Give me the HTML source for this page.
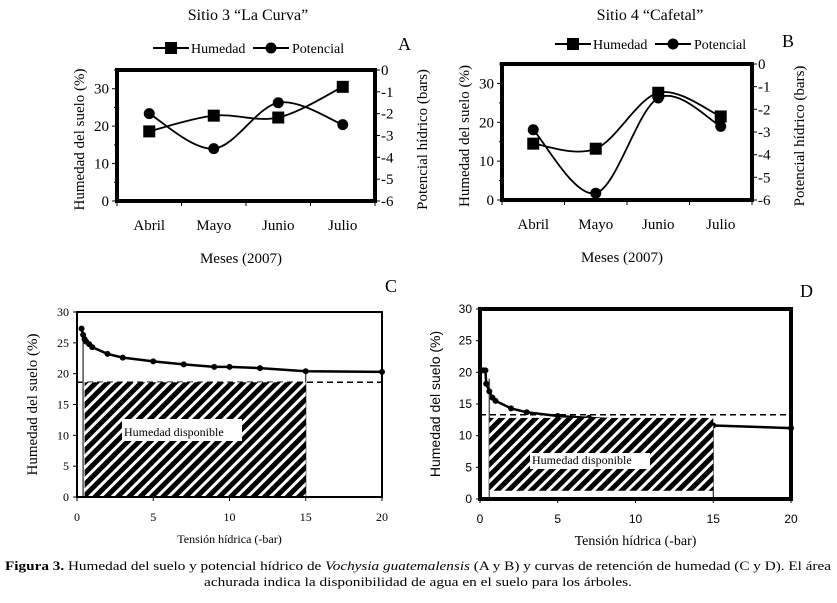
<!DOCTYPE html>
<html><head><meta charset="utf-8"><style>
body{margin:0;background:#fff}
svg{display:block}
text{font-family:"Liberation Serif",serif;fill:#000}
.sans{font-family:"Liberation Sans",sans-serif}
</style></head><body>
<svg id="s" width="837" height="603" viewBox="0 0 837 603" xmlns="http://www.w3.org/2000/svg">
<defs>
<pattern id="hatch" patternUnits="userSpaceOnUse" width="8" height="8" patternTransform="rotate(45)">
<rect width="8" height="8" fill="#fff"/><rect width="5" height="8" fill="#000"/>
</pattern>
</defs>
<g id="gA"></g>
<g id="gB"></g>
<g id="gC"></g>
<g id="gD"></g>
<text x="418" y="570" text-anchor="middle" font-size="13" textLength="826" lengthAdjust="spacingAndGlyphs"><tspan font-weight="bold">Figura 3.</tspan> Humedad del suelo y potencial hídrico de <tspan font-style="italic">Vochysia guatemalensis</tspan> (A y B) y curvas de retención de humedad (C y D). El área</text>
<text x="418" y="586" text-anchor="middle" font-size="13" textLength="428" lengthAdjust="spacingAndGlyphs">achurada indica la disponibilidad de agua en el suelo para los árboles.</text>
</svg>
<script>
const months = ["Abril","Mayo","Junio","Julio"];
const humA = [18.6, 22.8, 22.3, 30.5];
const potA = [-2.0, -3.6, -1.5, -2.5];
const humB = [14.5, 13.2, 27.6, 21.5];
const potB = [-2.9, -5.7, -1.5, -2.75];
const leftTicks = [0,10,20,30];
const rightTicks = [0,-1,-2,-3,-4,-5,-6];
const curveCx = [0.3,0.4,0.5,0.6,0.8,1,2,3,5,7,9,10,12,15,20];
const curveCy = [27.3,26.3,25.6,25.2,24.8,24.3,23.2,22.6,22,21.5,21.1,21.1,20.9,20.4,20.3];
const curveDx = [0.2,0.35,0.4,0.6,0.8,1,2,3,5,7,15,20];
const curveDy = [20.3,20.3,18.2,17,16,15.5,14.3,13.7,13.1,12.8,11.6,11.2];
const retTicksY = [0,5,10,15,20,25,30];
const retTicksX = [0,5,10,15,20];
const NS="http://www.w3.org/2000/svg";
function mk(p,tag,at,txt){const e=document.createElementNS(NS,tag);for(const k in at)e.setAttribute(k,at[k]);if(txt!==undefined)e.textContent=txt;p.appendChild(e);return e;}
function smooth(pts){let d="M"+pts[0][0]+","+pts[0][1];for(let i=0;i<pts.length-1;i++){const p0=pts[i-1]||pts[i],p1=pts[i],p2=pts[i+1],p3=pts[i+2]||p2;const c1=[p1[0]+(p2[0]-p0[0])/6,p1[1]+(p2[1]-p0[1])/6],c2=[p2[0]-(p3[0]-p1[0])/6,p2[1]-(p3[1]-p1[1])/6];d+=" C"+c1+" "+c2+" "+p2;}return d;}
function monthPanel(g,o){
  const {x0,x1,y0,y1,hum,pot,title,tx,letter,lx,ly,legY}=o;
  const ys=v=>y1-(y1-y0)*v/35, yr=v=>y0+(y1-y0)*(-v)/6;
  const bw=(x1-x0)/4, xs=i=>x0+bw*(i+0.5);
  let t;
  t=mk(g,"text",{x:tx,y:20,"text-anchor":"middle","font-size":16},title);
  t=mk(g,"text",{x:lx,y:ly,"font-size":18},letter);
  const lg=mk(g,"g",{});
  const L=tx-95;
  mk(lg,"line",{x1:L,y1:legY,x2:L+36,y2:legY,stroke:"#000","stroke-width":2});
  mk(lg,"rect",{x:L+12,y:legY-6,width:12,height:12,fill:"#000"});
  mk(lg,"text",{x:L+38,y:legY+5,"font-size":14},"Humedad");
  mk(lg,"line",{x1:L+100,y1:legY,x2:L+136,y2:legY,stroke:"#000","stroke-width":2});
  mk(lg,"circle",{cx:L+118,cy:legY,r:5.5,fill:"#000"});
  mk(lg,"text",{x:L+139,y:legY+5,"font-size":14},"Potencial");
  const fr=mk(g,"rect",{x:x0,y:y0,width:x1-x0,height:y1-y0,fill:"none",stroke:"#000","stroke-width":4});
  leftTicks.forEach(v=>{mk(g,"line",{x1:x0-5,x2:x0,y1:ys(v),y2:ys(v),stroke:"#000"});const e=mk(g,"text",{x:x0-8,y:ys(v)+5,"text-anchor":"end","font-size":15,fill:"#333"},v);});
  [5,15,25,35].forEach(v=>mk(g,"line",{x1:x0-3,x2:x0,y1:ys(v),y2:ys(v),stroke:"#000"}));
  rightTicks.forEach(v=>{mk(g,"line",{x1:x1,x2:x1+5,y1:yr(v),y2:yr(v),stroke:"#000"});const e=mk(g,"text",{x:x1+6,y:yr(v)+5,"font-size":15,fill:"#333"},v===0?"0":"-"+(-v));});
  for(let i=0;i<=4;i++)mk(g,"line",{x1:x0+bw*i,x2:x0+bw*i,y1:y1,y2:y1+5,stroke:"#000"});
  months.forEach((m,i)=>{const e=mk(g,"text",{x:xs(i),y:y1+29,"text-anchor":"middle","font-size":15},m);});
  t=mk(g,"text",{x:(x0+x1)/2-5,y:y1+62,"text-anchor":"middle","font-size":15},"Meses (2007)");
  t=mk(g,"text",{transform:`translate(${x0-33},${(y0+y1)/2+4}) rotate(-90)`,"text-anchor":"middle","font-size":15,fill:"#333"},"Humedad del suelo (%)");
  t=mk(g,"text",{transform:`translate(${x1+52},${(y0+y1)/2+4}) rotate(-90)`,"text-anchor":"middle","font-size":15,fill:"#333"},"Potencial hídrico (bars)");
  const ph=hum.map((v,i)=>[xs(i),ys(v)]), pp=pot.map((v,i)=>[xs(i),yr(v)]);
  let e=mk(g,"path",{d:smooth(ph),fill:"none",stroke:"#000","stroke-width":1.8});
  e=mk(g,"path",{d:smooth(pp),fill:"none",stroke:"#000","stroke-width":1.8});
  ph.forEach(p=>{const r=mk(g,"rect",{x:p[0]-6,y:p[1]-6,width:12,height:12,fill:"#000"});});
  pp.forEach(p=>{const c=mk(g,"circle",{cx:p[0],cy:p[1],r:5.5,fill:"#000"});});
}
monthPanel(document.getElementById("gA"),{x0:117,x1:375,y0:70,y1:201,hum:humA,pot:potA,title:"Sitio 3 \u201cLa Curva\u201d",tx:248,letter:"A",lx:398,ly:50,legY:48});
monthPanel(document.getElementById("gB"),{x0:502,x1:752,y0:64,y1:200,hum:humB,pot:potB,title:"Sitio 4 \u201cCafetal\u201d",tx:650,letter:"B",lx:782,ly:47,legY:44});

function retPanel(g,o){
  const {x0,x1,y0,y1,cx,cy,dash,hx0,hy0,hy1,vx,vy,lbl,letter,lx,ly,sans,fw}=o;
  const xs=v=>x0+(x1-x0)*v/20, ys=v=>y1-(y1-y0)*v/30;
  const cls=sans?"sans":"";
  let t=mk(g,"text",{x:lx,y:ly,"font-size":18},letter);
  let dl=mk(g,"line",{x1:x0,x2:x1,y1:ys(dash),y2:ys(dash),stroke:"#000","stroke-width":1.5,"stroke-dasharray":"6,4"});
  mk(g,"line",{x1:xs(vx),x2:xs(vx),y1:y1,y2:ys(vy),stroke:"#555","stroke-width":1.5});
  mk(g,"line",{x1:xs(15),x2:xs(15),y1:y1,y2:ys(cy[cx.indexOf(15)]),stroke:"#000","stroke-width":1});
  const pts=cx.map((v,i)=>[xs(v),ys(cy[i])]);
  let e=mk(g,"path",{d:"M"+pts.map(p=>p.join(",")).join(" L"),fill:"none",stroke:"#000","stroke-width":2.5});
  pts.forEach(p=>{const c=mk(g,"circle",{cx:p[0],cy:p[1],r:3,fill:"#000"});});
  let h=mk(g,"rect",{x:xs(hx0),y:ys(hy1),width:xs(15)-xs(hx0),height:ys(hy0)-ys(hy1),fill:"url(#hatch)"});
  const fr=mk(g,"rect",{x:x0,y:y0,width:x1-x0,height:y1-y0,fill:"none",stroke:"#000","stroke-width":fw});
  const lb=mk(g,"rect",{x:lbl[0],y:lbl[1],width:lbl[2],height:lbl[3],fill:"#fff"});
  t=mk(g,"text",{x:lbl[0]+2,y:lbl[1]+lbl[3]-5,"font-size":12},"Humedad disponible");
  retTicksY.forEach(v=>{mk(g,"line",{x1:x0-4,x2:x0,y1:ys(v),y2:ys(v),stroke:"#000"});const e=mk(g,"text",{x:x0-8,y:ys(v)+4,"text-anchor":"end","font-size":12,class:cls,fill:"#333"},v);});
  retTicksX.forEach(v=>{mk(g,"line",{x1:xs(v),x2:xs(v),y1:y1,y2:y1+4,stroke:"#000"});const e=mk(g,"text",{x:xs(v),y:y1+24,"text-anchor":"middle","font-size":12,class:cls,fill:"#333"},v);});
  t=mk(g,"text",{x:(x0+x1)/2,y:y1+46,"text-anchor":"middle","font-size":sans?14:12},"Tensión hídrica (-bar)");
  t=mk(g,"text",{transform:`translate(${x0-40},${(y0+y1)/2}) rotate(-90)`,"text-anchor":"middle","font-size":sans?14:15,class:cls,fill:"#333"},"Humedad del suelo (%)");
}
retPanel(document.getElementById("gC"),{x0:77,x1:382,y0:312,y1:497,cx:curveCx,cy:curveCy,dash:18.6,hx0:0.5,hy0:0,hy1:18.6,vx:0.4,vy:26,lbl:[122,419,120,22],letter:"C",lx:385,ly:292,sans:false,fw:2});
retPanel(document.getElementById("gD"),{x0:480,x1:791,y0:309,y1:499,cx:curveDx,cy:curveDy,dash:13.3,hx0:0.6,hy0:1.3,hy1:12.8,vx:0.6,vy:19,lbl:[530,453,120,16],letter:"D",lx:800,ly:297,sans:true,fw:4});
</script>
</body></html>
